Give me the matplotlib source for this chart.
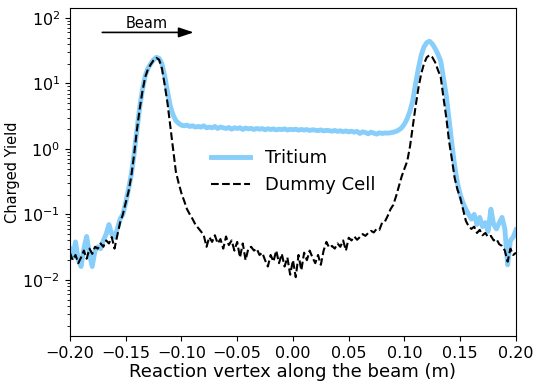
import numpy as np
import matplotlib
matplotlib.use("Agg")
import matplotlib.pyplot as plt

# reaction vertex bins along the beam (m)
vertex = np.linspace(-0.2, 0.2, 161)

tritium_yield = [
    0.030, 0.022, 0.038, 0.020, 0.016, 0.030, 0.046, 0.025, 0.016, 0.028,
    0.032, 0.030, 0.040, 0.050, 0.070, 0.050, 0.045, 0.060, 0.085, 0.10,
    0.15, 0.24, 0.40, 0.82, 1.9, 4.2, 8.0, 13.0, 17.0, 20.0,
    23.0, 25.0, 24.0, 20.0, 13.0, 7.5, 4.5, 3.3, 2.7, 2.45,
    2.30, 2.25, 2.30, 2.20, 2.25, 2.15, 2.20, 2.15, 2.25, 2.10,
    2.15, 2.10, 2.20, 2.05, 2.15, 2.10, 2.05, 2.12, 2.00, 2.10,
    2.05, 2.10, 1.98, 2.08, 2.02, 2.06, 1.98, 2.05, 2.00, 2.04,
    1.96, 2.03, 1.98, 2.02, 1.95, 2.00, 1.97, 2.02, 1.94, 1.99,
    1.96, 2.00, 1.93, 1.98, 1.94, 1.97, 1.91, 1.96, 1.93, 1.90,
    1.95, 1.88, 1.92, 1.90, 1.86, 1.91, 1.85, 1.89, 1.83, 1.88,
    1.82, 1.86, 1.80, 1.85, 1.72, 1.82, 1.78, 1.70, 1.80, 1.74,
    1.68, 1.76, 1.72, 1.75, 1.74, 1.76, 1.80, 1.85, 1.95, 2.10,
    2.40, 2.90, 3.8, 5.5, 10.0, 17.0, 27.0, 36.0, 42.0, 44.0,
    40.0, 34.0, 28.0, 22.0, 12.0, 6.5, 2.8, 1.2, 0.55, 0.30,
    0.20, 0.15, 0.12, 0.10, 0.085, 0.10, 0.070, 0.090, 0.065, 0.075,
    0.055, 0.12, 0.070, 0.060, 0.075, 0.090, 0.060, 0.017, 0.040, 0.045,
    0.058,
]

dummy_yield = [
    0.026, 0.020, 0.024, 0.018, 0.022, 0.028, 0.021, 0.030, 0.025, 0.032,
    0.030, 0.036, 0.032, 0.040, 0.036, 0.045, 0.030, 0.048, 0.075, 0.10,
    0.15, 0.22, 0.38, 0.80, 1.9, 4.0, 7.5, 12.5, 16.5, 19.5,
    22.5, 24.5, 23.0, 17.0, 9.5, 5.0, 2.2, 1.0, 0.45, 0.30,
    0.21, 0.16, 0.12, 0.10, 0.085, 0.070, 0.062, 0.055, 0.048, 0.032,
    0.045, 0.038, 0.048, 0.036, 0.042, 0.030, 0.046, 0.034, 0.040, 0.028,
    0.038, 0.022, 0.036, 0.020, 0.030, 0.032, 0.028, 0.030, 0.024, 0.026,
    0.020, 0.016, 0.024, 0.019, 0.028, 0.018, 0.025, 0.016, 0.022, 0.012,
    0.020, 0.011, 0.024, 0.014, 0.026, 0.020, 0.028, 0.022, 0.018, 0.024,
    0.017, 0.028, 0.038, 0.031, 0.033, 0.030, 0.036, 0.032, 0.040, 0.028,
    0.044, 0.040, 0.046, 0.041, 0.045, 0.050, 0.047, 0.052, 0.056, 0.053,
    0.060, 0.058, 0.075, 0.078, 0.095, 0.12, 0.14, 0.19, 0.27, 0.38,
    0.50, 0.65, 1.1, 2.2, 4.5, 8.5, 14.0, 20.0, 25.0, 27.0,
    25.0, 21.0, 16.0, 12.5, 6.0, 3.0, 1.3, 0.70, 0.36, 0.24,
    0.18, 0.12, 0.080, 0.066, 0.060, 0.065, 0.052, 0.058, 0.048, 0.052,
    0.045, 0.047, 0.040, 0.042, 0.035, 0.033, 0.028, 0.019, 0.030, 0.024,
    0.026,
]

fig, ax = plt.subplots(figsize=(5.42, 3.86), dpi=100)
fig.subplots_adjust(left=0.129, right=0.952, bottom=0.13, top=0.979)

ax.plot(vertex, tritium_yield, color='#87CEFA', lw=3.5, label='Tritium')
ax.plot(vertex, dummy_yield, color='black', lw=1.5, ls='--', label='Dummy Cell')

ax.set_yscale('log')
ax.set_xlim(-0.2, 0.2)
ax.set_ylim(1.4e-3, 141)
ax.set_xticks(np.arange(-0.2, 0.201, 0.05))
ax.tick_params(axis='both', labelsize=11.5)

ax.set_xlabel('Reaction vertex along the beam (m)', fontsize=13, labelpad=2)
ax.set_ylabel('Charged Yield', fontsize=10.5, labelpad=2)

# beam direction marker
ax.annotate('', xy=(-0.089, 60), xytext=(-0.171, 60),
            arrowprops=dict(arrowstyle='-|>,head_length=0.9,head_width=0.3',
                            color='black', lw=1.2, shrinkA=0, shrinkB=0))
ax.text(-0.131, 63, 'Beam', fontsize=10.5, ha='center', va='bottom')

ax.legend(loc='center', frameon=False, fontsize=13, handlelength=2.2)

fig.savefig('out.png', dpi=100)
